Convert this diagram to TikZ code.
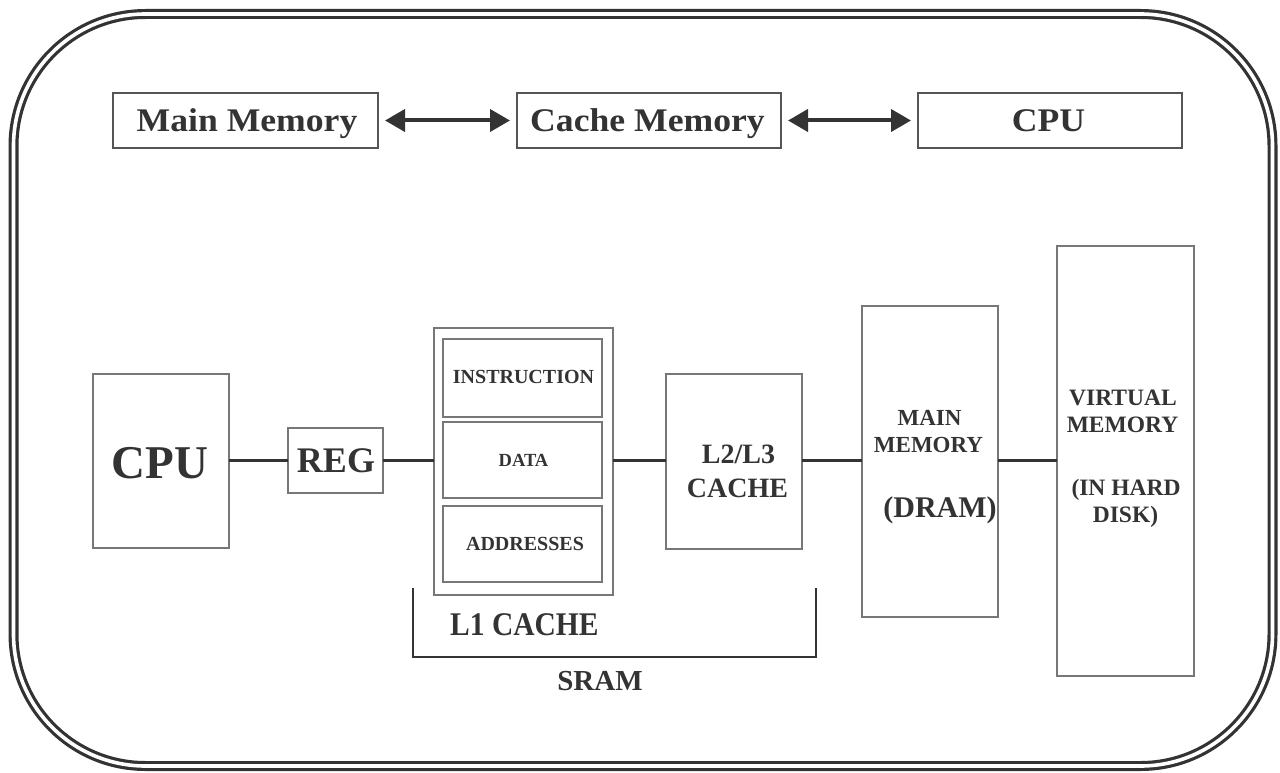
\documentclass[tikz,border=0pt]{standalone}
\usepackage{fontspec}
\setmainfont{Liberation Serif}
\usetikzlibrary{arrows.meta}
\definecolor{ink}{HTML}{333333}
\definecolor{boxgray}{HTML}{777777}
\definecolor{topgray}{HTML}{555555}
\newcommand{\fsz}[1]{\fontsize{#1}{#1}\selectfont}
\begin{document}
\begin{tikzpicture}[x=1pt,y=-1pt,
  rect/.style={draw=boxgray, line width=1.2pt, inner sep=0pt, outer sep=0pt},
  toprect/.style={draw=topgray, line width=1.5pt, inner sep=0pt, outer sep=0pt, minimum width=264pt, minimum height=55pt},
  lbl/.style={text=ink, font=\bfseries, inner sep=0pt, anchor=base},
  wire/.style={draw=ink, line width=3.5pt},
  biarrow/.style={draw=ink, line width=4pt, {Triangle[length=20pt,width=22pt]}-{Triangle[length=20pt,width=22pt]}, shorten <=7pt, shorten >=7pt},
  bracket/.style={draw=ink, line width=2pt}
]
\useasboundingbox (0,0) rectangle (1280,773);
% outer double rounded frame
\draw[ink, line width=3.2pt, double=white, double distance=3.6pt, rounded corners=132pt] (13.5,14) rectangle (1272.5,766);

% top row
\node[toprect, minimum width=265pt] (mmtop) at (245.5,120.5) {};
\node[toprect] (cmtop) at (649,120.5) {};
\node[toprect] (cputop) at (1050,120.5) {};
\node[lbl, font=\bfseries\fsz{33}] (mmtopt) at (247,132) {\scalebox{1.08}[1]{Main Memory}};
\node[lbl, font=\bfseries\fsz{33}] (cmtopt) at (647.5,132) {\scalebox{1.08}[1]{Cache Memory}};
\node[lbl, font=\bfseries\fsz{33}] (cputopt) at (1048.5,132) {\scalebox{1.08}[1]{CPU}};
\draw[biarrow] (mmtop.east) -- (cmtop.west);
\draw[biarrow] (cmtop.east) -- (cputop.west);

% bottom row
\node[rect, minimum width=136pt, minimum height=174pt] (cpu) at (161,461) {};
\node[lbl, font=\bfseries\fsz{47}] (cput) at (160,478) {CPU};

\node[rect, minimum width=95pt, minimum height=65pt] (reg) at (335.5,460.5) {};
\node[lbl, font=\bfseries\fsz{36}] (regt) at (336,472) {REG};

\node[rect, minimum width=179pt, minimum height=267pt] (l1) at (523.5,461.5) {};
\node[rect, minimum width=159pt, minimum height=78pt] (ins) at (522.5,378) {};
\node[rect, minimum width=159pt, minimum height=76pt] (dat) at (522.5,460) {};
\node[rect, minimum width=159pt, minimum height=76pt] (adr) at (522.5,544) {};
\node[lbl, font=\bfseries\fsz{20}] (inst) at (523.5,383) {INSTRUCTION};
\node[lbl, font=\bfseries\fsz{18.5}] (datt) at (523.5,466) {DATA};
\node[lbl, font=\bfseries\fsz{20}] (adrt) at (525,550) {ADDRESSES};

\node[rect, minimum width=136pt, minimum height=175pt] (l2) at (734,461.5) {};
\node[lbl, font=\bfseries\fsz{28}] (l2ta) at (738.5,463) {L2/L3};
\node[lbl, font=\bfseries\fsz{28}] (l2tb) at (737.5,497) {CACHE};

\node[rect, minimum width=136pt, minimum height=311pt] (mm) at (930,461.5) {};
\node[lbl, font=\bfseries\fsz{23}] (mmta) at (929.5,425) {MAIN};
\node[lbl, font=\bfseries\fsz{23}] (mmtb) at (928.5,452) {MEMORY};
\node[lbl, font=\bfseries\fsz{30}] (mmtc) at (940,517) {(DRAM)};

\node[rect, minimum width=137pt, minimum height=430pt] (vm) at (1125.5,461) {};
\node[lbl, font=\bfseries\fsz{23.5}] (vmta) at (1123,405) {VIRTUAL};
\node[lbl, font=\bfseries\fsz{23.5}] (vmtb) at (1122.5,432) {MEMORY};
\node[lbl, font=\bfseries\fsz{23.5}] (vmtc) at (1126,495) {(IN HARD};
\node[lbl, font=\bfseries\fsz{23.5}] (vmtd) at (1125.5,522) {DISK)};

% connectors
\coordinate (ly) at (0,460.5);
\draw[wire] (cpu.east |- ly) -- (reg.west |- ly);
\draw[wire] (reg.east |- ly) -- (l1.west |- ly);
\draw[wire] (l1.east |- ly) -- (l2.west |- ly);
\draw[wire] (l2.east |- ly) -- (mm.west |- ly);
\draw[wire] (mm.east |- ly) -- (vm.west |- ly);

% SRAM bracket
\coordinate (b1) at (413,588);
\coordinate (b2) at (413,657);
\coordinate (b3) at (816,657);
\coordinate (b4) at (816,588);
\draw[bracket] (b1) -- (b2) -- (b3) -- (b4);
\node[lbl, anchor=base west, font=\bfseries\fsz{29.5}] (l1t) at (450,635) {\scalebox{1}[1.12]{L1 CACHE}};
\node[lbl, font=\bfseries\fsz{29}] (sramt) at (600,690) {SRAM};
\end{tikzpicture}
\end{document}
